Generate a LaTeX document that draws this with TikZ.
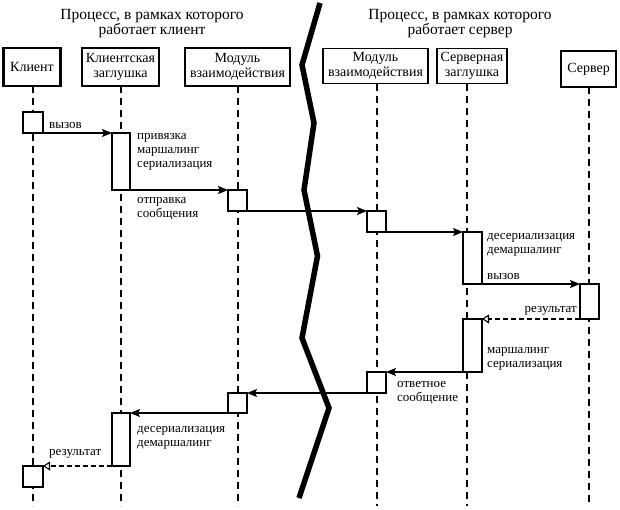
\documentclass[tikz,border=0pt]{standalone}
\usepackage{fontspec}
\setmainfont{Liberation Serif}
\usetikzlibrary{arrows.meta}
\begin{document}
\begin{tikzpicture}[x=1pt,y=-1pt,
  head/.style={draw, line width=1.2pt, inner sep=0pt, outer sep=0pt, align=center,
    font=\fontsize{14}{15}\selectfont},
  actor/.style={head, line width=2.4pt},
  act/.style={draw, fill=white, line width=1.2pt, inner sep=0pt, outer sep=0pt, anchor=north west},
  life/.style={line width=2.6pt, dash pattern=on 7pt off 5pt},
  msg/.style={line width=1.6pt, -{Stealth[length=10pt,width=8pt,inset=2pt]}},
  ret/.style={line width=1.4pt, dash pattern=on 5pt off 3pt, -{Triangle[open,length=7pt,width=9pt,line width=1.1pt]}},
  lbl/.style={inner sep=0pt, align=left, anchor=base west, font=\fontsize{13}{14}\selectfont},
  lblr/.style={lbl, anchor=base east, align=right},
  title/.style={inner sep=0pt, align=center, anchor=base, font=\fontsize{15.5}{15}\selectfont},
  zig/.style={line width=5.5pt, line join=miter}
]
\useasboundingbox (0,0) rectangle (620,509);

% titles (base = last line)
\node[title] (t1) at (152,34) {Процесс, в рамках которого\\работает клиент};
\node[title] (t2) at (460,34) {Процесс, в рамках которого\\работает сервер};

% headers
\node[actor, minimum width=57pt, minimum height=38pt] (hK) at (32,67) {Клиент};
\node[head, minimum width=77pt, minimum height=38pt] (hKS) at (120.5,67) {Клиентская\\заглушка};
\node[head, minimum width=105pt, minimum height=38pt] (hML) at (237.5,67) {Модуль\\взаимодействия};
\node[head, minimum width=105pt, minimum height=35pt] (hMR) at (375.5,66) {Модуль\\взаимодействия};
\node[head, minimum width=70pt, minimum height=35pt] (hSS) at (472,66) {Серверная\\заглушка};
\node[actor, minimum width=55pt, minimum height=36pt] (hS) at (588.5,69) {Сервер};

% lifeline ends
\coordinate (eK) at (33,506);
\coordinate (eKS) at (121,506);
\coordinate (eML) at (238,506);
\coordinate (eMR) at (377,506);
\coordinate (eSS) at (467,506);
\coordinate (eS) at (589,506);

\draw[life] (hK.south -| eK) -- (eK);
\draw[life] (hKS.south -| eKS) -- (eKS);
\draw[life] (hML.south -| eML) -- (eML);
\draw[life] (hMR.south -| eMR) -- (eMR);
\draw[life] (hSS.south -| eSS) -- (eSS);
\draw[life] (hS.south -| eS) -- (eS);

% activations
\node[act, minimum width=20pt, minimum height=21pt] (a1) at (23,112) {};
\node[act, minimum width=18pt, minimum height=57pt] (b1) at (112,133) {};
\node[act, minimum width=19pt, minimum height=21pt] (c1) at (228,190) {};
\node[act, minimum width=19pt, minimum height=21pt] (d1) at (367,211) {};
\node[act, minimum width=19pt, minimum height=52pt] (e1) at (463,232) {};
\node[act, minimum width=19pt, minimum height=35pt] (f1) at (580,284) {};
\node[act, minimum width=19pt, minimum height=53pt] (e2) at (463,319) {};
\node[act, minimum width=19pt, minimum height=21pt] (d2) at (367,372) {};
\node[act, minimum width=19pt, minimum height=20pt] (c2) at (228,393) {};
\node[act, minimum width=18pt, minimum height=53pt] (b2) at (112,413) {};
\node[act, minimum width=20pt, minimum height=21pt] (a2) at (23,466) {};

% messages
\draw[msg] (a1.south east) -- (b1.north west);
\draw[msg] (b1.south east) -- (c1.north west);
\draw[msg] (c1.south east) -- (d1.north west);
\draw[msg] (d1.south east) -- (e1.north west);
\draw[msg] (e1.south east) -- (f1.north west);
\draw[ret] (f1.south west) -- (e2.north east);
\draw[msg] (e2.south west) -- (d2.north east);
\draw[msg] (d2.south west) -- (c2.north east);
\draw[msg] (c2.south west) -- (b2.north east);
\draw[ret] (b2.south west) -- (a2.north east);

% zigzag separator
\draw[zig] (320,3) -- (302,65) -- (314,123) -- (304,190) -- (317.5,256) -- (302,338) -- (329,408) -- (299,498);

% labels (base = last line)
\node[lbl] (l1) at (49,128) {вызов};
\node[lbl] (l2) at (137,167) {привязка\\маршалинг\\сериализация};
\node[lbl] (l3) at (137,217) {отправка\\сообщения};
\node[lbl] (l4) at (487,253) {десериализация\\демаршалинг};
\node[lbl] (l5) at (487,279) {вызов};
\node[lblr] (l6) at (577,312) {результат};
\node[lbl] (l7) at (487,367) {маршалинг\\сериализация};
\node[lbl] (l8) at (397,401) {ответное\\сообщение};
\node[lbl] (l9) at (137,446) {десериализация\\демаршалинг};
\node[lbl] (l10) at (49,455) {результат};
\end{tikzpicture}
\end{document}
